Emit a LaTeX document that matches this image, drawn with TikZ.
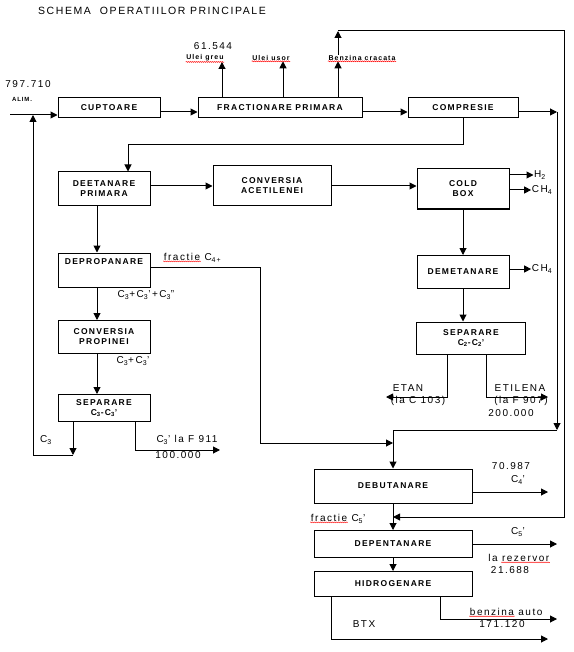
\documentclass[tikz,border=0pt]{standalone}
\usepackage{fontspec}
\setmainfont[LetterSpace=15]{Liberation Sans}
\usetikzlibrary{arrows.meta,positioning,decorations.pathmorphing}

\begin{document}
\begin{tikzpicture}[
 x=1pt,y=-1pt,
 box/.style={draw,line width=1pt,align=center,inner sep=1pt,font=\bfseries\fontsize{8.5}{10}\selectfont},
 arrow/.style={-{Triangle[length=7pt,width=7pt]},line width=1pt},
 lbl/.style={inner sep=0.5pt,font=\fontsize{10}{11}\selectfont},
 tag/.style={inner sep=0.5pt,font=\bfseries\fontsize{7}{8}\selectfont},
 spell/.style={draw=red,line width=0.4pt,decorate,decoration={snake,amplitude=0.5pt,segment length=2pt}}
]
\useasboundingbox (0,0) rectangle (573,652);
\node[lbl,font=\fontsize{10.5}{12}\selectfont] (title) at (152,11) {SCHEMA~~OPERATIILOR PRINCIPALE};

\node[box,minimum width=102pt,minimum height=20pt] (cupt) at (109,108) {CUPTOARE};
\node[box,minimum width=164pt,minimum height=20pt] (fract) at (280,108) {FRACTIONARE PRIMARA};
\node[box,minimum width=110pt,minimum height=20pt] (compr) at (463,108) {COMPRESIE};
\node[box,minimum width=92pt,minimum height=34pt] (deet) at (104,189) {DEETANARE\\PRIMARA};
\node[box,minimum width=118pt,minimum height=40pt] (convac) at (272,186) {CONVERSIA\\ACETILENEI};
\node[box,minimum width=92pt,minimum height=40pt] (cold) at (463,189) {COLD\\BOX};
\node[box,minimum width=92pt,minimum height=33pt] (demet) at (463,272) {DEMETANARE};
\node[box,minimum width=109pt,minimum height=32pt] (sepc2) at (471,338) {SEPARARE\\C\textsubscript{2}-C\textsubscript{2}'};
\node[box,minimum width=92pt,minimum height=34pt,text depth=16pt] (deprop) at (104,270) {DEPROPANARE};
\node[box,minimum width=92pt,minimum height=33pt] (convpr) at (104,337) {CONVERSIA\\PROPINEI};
\node[box,minimum width=92pt,minimum height=27pt] (sepc3) at (104,408) {SEPARARE\\C\textsubscript{3}-C\textsubscript{3}'};
\node[box,minimum width=158pt,minimum height=34pt] (debut) at (393,486) {DEBUTANARE};
\node[box,minimum width=158pt,minimum height=27pt] (depent) at (393,544) {DEPENTANARE};
\node[box,minimum width=158pt,minimum height=25pt] (hidro) at (393,584) {HIDROGENARE};

\node[lbl] (v797) at (28,84) {797.710};
\node[tag,font=\bfseries\fontsize{6}{7}\selectfont] (alimlbl) at (22,99) {ALIM.};
\node[lbl] (v615) at (213,46) {61.544};
\node[tag] (ugreu) at (205,58) {Ulei greu};
\node[tag] (uusor) at (271,58) {Ulei usor};
\node[tag] (bcr) at (362,58) {Benzina cracata};
\node[lbl] (h2) at (540,175) {H\textsubscript{2}};
\node[lbl] (ch4a) at (542,190) {CH\textsubscript{4}};
\node[lbl] (ch4b) at (542,269) {CH\textsubscript{4}};
\node[lbl] (fr4) at (182,257) {fractie};
\node[lbl,base right=3pt of fr4] (c4p) {C\textsubscript{4+}};
\node[lbl] (c3mix) at (146,295) {C\textsubscript{3}+C\textsubscript{3}'+C\textsubscript{3}''};
\node[lbl] (c3two) at (133,361) {C\textsubscript{3}+C\textsubscript{3}'};
\node[lbl] (c3lbl) at (46,440) {C\textsubscript{3}};
\node[lbl] (c3plbl) at (187,440) {C\textsubscript{3}' la F 911};
\node[lbl] (v100) at (178,455) {100.000};
\node[lbl] (etan) at (408,388) {ETAN};
\node[lbl] (etandst) at (418,401) {(la C 103)};
\node[lbl] (etil) at (520,388) {ETILENA};
\node[lbl] (etildst) at (521,401) {(la F 907)};
\node[lbl] (v200) at (511,413) {200.000};
\node[lbl] (v709) at (511,466) {70.987};
\node[lbl] (c4lbl) at (518,480) {C\textsubscript{4}'};
\node[lbl] (fr5) at (329,518) {fractie};
\node[lbl,base right=3pt of fr5] (c5p) {C\textsubscript{5}'};
\node[lbl] (c5lbl) at (518,532) {C\textsubscript{5}'};
\node[lbl] (la) at (493,558) {la};
\node[lbl,base right=3pt of la] (rez) {rezervor};
\node[lbl] (v216) at (510,570) {21.688};
\node[lbl] (bz) at (492,612) {benzina};
\node[lbl,base right=3pt of bz] (auto) {auto};
\node[lbl] (v171) at (502,624) {171.120};
\node[lbl] (btx) at (364,624) {BTX};

\coordinate (alim) at (10,115);
\coordinate (join) at (33,115);
\coordinate (lt) at (338,31);
\coordinate (rt) at (564,31);
\coordinate (rb) at (564,517);
\coordinate (ra) at (557,112);
\coordinate (rc) at (557,430);
\coordinate (jd) at (463,145);
\coordinate (c4a) at (260,443);
\coordinate (c3end) at (73,455);
\coordinate (c3pend) at (220,450);
\coordinate (etanend) at (386,397);
\coordinate (etilend) at (548,397);
\coordinate (c4out) at (548,492);
\coordinate (c5out) at (557,544);
\coordinate (bzout) at (557,619);
\coordinate (btxout) at (548,639);

\draw[arrow] (alim) -- (alim -| cupt.west);
\draw[arrow] ([yshift=-4pt]cupt.east) -- ([yshift=-4pt]cupt.east -| fract.west);
\draw[arrow] ([yshift=-4pt]fract.east) -- ([yshift=-4pt]fract.east -| compr.west);
\draw[arrow] ([yshift=-4pt]compr.east) -- (ra);
\draw[arrow] (ra) -- (rc);
\draw[arrow] (rc) -| (debut.north);
\draw[arrow] ([xshift=-58pt]fract.north) -- ([xshift=-58pt]fract.north |- ugreu.south);
\draw[arrow] ([xshift=3pt]fract.north) -- ([xshift=3pt]fract.north |- uusor.south);
\draw[arrow] ([xshift=58pt]fract.north) -- ([xshift=58pt]fract.north |- bcr.south);
\draw[arrow] (bcr.north -| lt) -- (lt);
\draw[arrow] (lt) -- (rt) -- (rb) -- (rb -| debut.south);
\draw[arrow] (compr.south) -- (jd) -| ([xshift=24pt]deet.north);
\draw[arrow] (deet.east |- convac.west) -- (convac.west);
\draw[arrow] (convac.east) -- (convac.east -| cold.west);
\draw[arrow] (h2.west -| cold.east) -- (h2.west);
\draw[arrow] (ch4a.west -| cold.east) -- (ch4a.west);
\draw[arrow] (cold.south) -- (demet.north);
\draw[arrow] (ch4b.west -| demet.east) -- (ch4b.west);
\draw[arrow] (demet.south) -- (demet.south |- sepc2.north);
\draw[arrow] ([xshift=-24pt]sepc2.south) |- (etanend);
\draw[arrow] ([xshift=15pt]sepc2.south) |- (etilend);
\draw[arrow] ([xshift=-7pt]deet.south) -- ([xshift=-7pt]deprop.north);
\draw[arrow] ([yshift=3pt]deprop.east) -| (c4a) -- (c4a -| debut.north);
\draw[arrow] ([xshift=-7pt]deprop.south) -- ([xshift=-7pt]convpr.north);
\draw[arrow] ([xshift=-7pt]convpr.south) -- ([xshift=-7pt]sepc3.north);
\draw[arrow] ([xshift=-31pt]sepc3.south) -- (c3end);
\draw[arrow] (c3end) -| (join);
\draw[arrow] ([xshift=31pt]sepc3.south) |- (c3pend);
\draw[arrow] ([yshift=-6pt]debut.east) -- (c4out);
\draw[arrow] (debut.south) -- (depent.north);
\draw[arrow] (depent.east) -- (c5out);
\draw[arrow] (depent.south) -- (hidro.north);
\draw[arrow] ([xshift=47pt]hidro.south) |- (bzout);
\draw[arrow] ([xshift=-62pt]hidro.south) |- (btxout);

\draw[spell] (ugreu.south west) -- (ugreu.south east);
\draw[spell] (uusor.south west) -- (uusor.south east);
\draw[spell] (bcr.south west) -- (bcr.south east);
\draw[spell] (fr4.south west) -- (fr4.south east);
\draw[spell] (fr5.south west) -- (fr5.south east);
\draw[spell] (rez.south west) -- (rez.south east);
\draw[spell] (bz.south west) -- (bz.south east);
\end{tikzpicture}
\end{document}
